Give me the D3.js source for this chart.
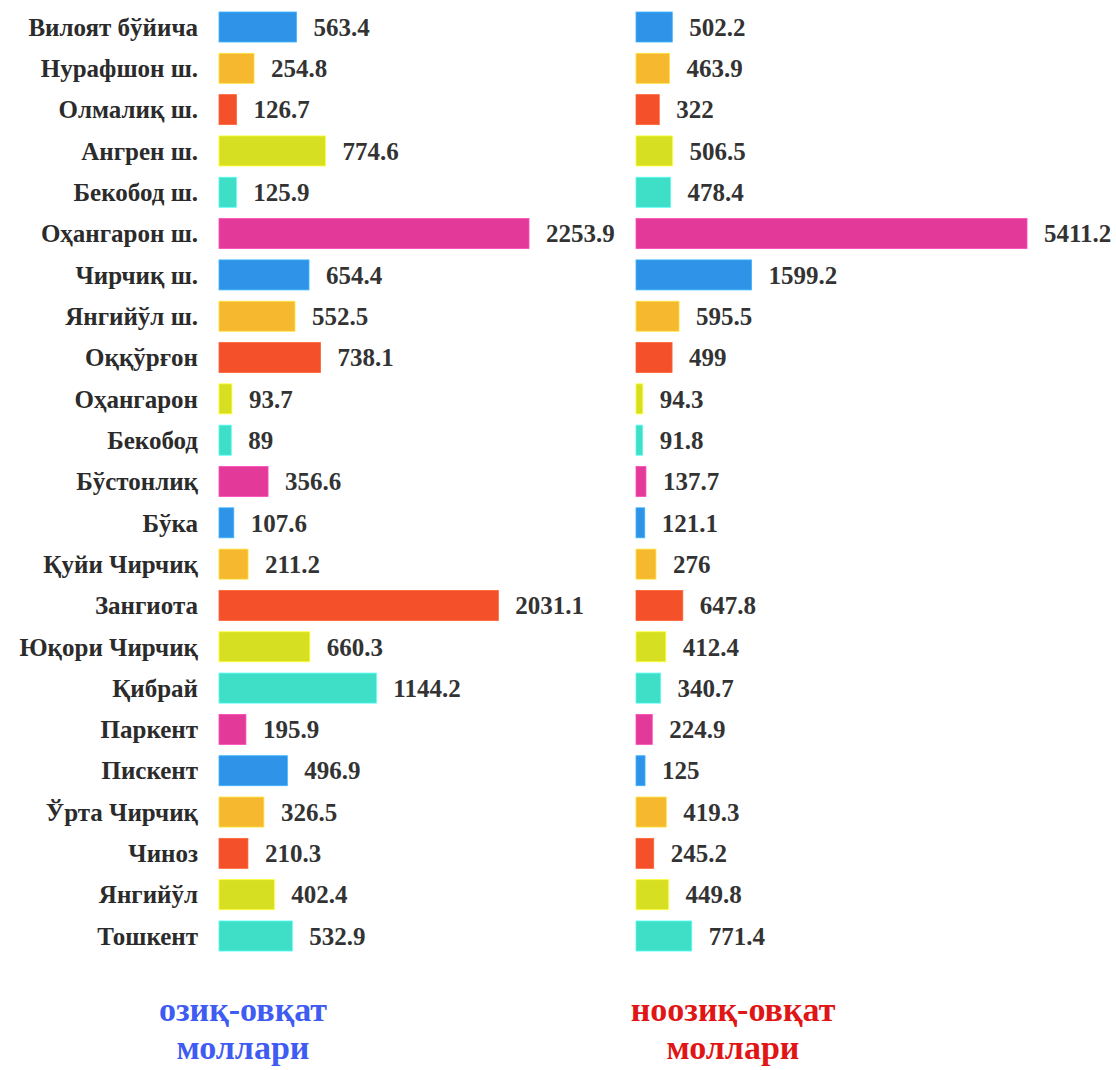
<!DOCTYPE html>
<html><head><meta charset="utf-8">
<script src="https://cdn.jsdelivr.net/npm/d3@7"></script>
<style>body{margin:0;background:#fff}svg{display:block}
text{font-family:"Liberation Serif","Tinos","Times New Roman","DejaVu Serif",serif;font-weight:bold}</style>
</head><body>
<script>
const categories = ["Вилоят бўйича","Нурафшон ш.","Олмалиқ ш.","Ангрен ш.","Бекобод ш.","Оҳангарон ш.","Чирчиқ ш.","Янгийўл ш.","Оққўрғон","Оҳангарон","Бекобод","Бўстонлиқ","Бўка","Қуйи Чирчиқ","Зангиота","Юқори Чирчиқ","Қибрай","Паркент","Пискент","Ўрта Чирчиқ","Чиноз","Янгийўл","Тошкент"];
const foodValues = [563.4,254.8,126.7,774.6,125.9,2253.9,654.4,552.5,738.1,93.7,89,356.6,107.6,211.2,2031.1,660.3,1144.2,195.9,496.9,326.5,210.3,402.4,532.9];
const nonFoodValues = [502.2,463.9,322,506.5,478.4,5411.2,1599.2,595.5,499,94.3,91.8,137.7,121.1,276,647.8,412.4,340.7,224.9,125,419.3,245.2,449.8,771.4];
const palette = ["#2f93e8","#f5b82e","#f4502a","#d6df22","#3fdec7","#e33a9a"];
const titleFood = ["озиқ-овқат","моллари"];
const titleNonFood = ["ноозиқ-овқат","моллари"];

const W = 1116, H = 1070;
const svg = d3.select("body").append("svg").attr("width", W).attr("height", H);

const y = d3.scaleBand().domain(categories).range([12, 951]).paddingInner(0.274).paddingOuter(0);
const color = (i) => palette[i % palette.length];

const xL = d3.scaleLinear().domain([0, 2253.9]).range([219, 529]);
const xR = d3.scaleLinear().domain([0, 5411.2]).range([636, 1027]);

svg.append("g").selectAll("text").data(categories).join("text")
  .attr("x", 198).attr("y", d => y(d) + y.bandwidth()/2).attr("dy", "0.35em")
  .attr("text-anchor", "end").attr("font-size", 25).attr("fill", "#2b2b2b").text(d => d);

function drawSeries(vals, x) {
  const g = svg.append("g");
  g.selectAll("rect").data(vals).join("rect")
    .attr("x", x(0)).attr("y", (d,i) => y(categories[i]))
    .attr("width", d => x(d) - x(0)).attr("height", y.bandwidth())
    .attr("fill", (d,i) => color(i))
    .attr("stroke", (d,i) => d3.color(color(i)).brighter(0.6)).attr("stroke-width", 0.8);
  g.selectAll("text").data(vals).join("text")
    .attr("x", d => x(d) + 17).attr("y", (d,i) => y(categories[i]) + y.bandwidth()/2).attr("dy", "0.35em")
    .attr("font-size", 25).attr("fill", "#333").text(d => d);
}
drawSeries(foodValues, xL);
drawSeries(nonFoodValues, xR);

function title(lines, cx, fill) {
  svg.append("g").selectAll("text").data(lines).join("text")
    .attr("x", cx).attr("y", (d,i) => 1021 + i*38)
    .attr("text-anchor", "middle").attr("font-size", 34).attr("fill", fill).text(d => d);
}
title(titleFood, 243, "#3f5cf2");
title(titleNonFood, 733, "#e01515");
</script>
</body></html>
